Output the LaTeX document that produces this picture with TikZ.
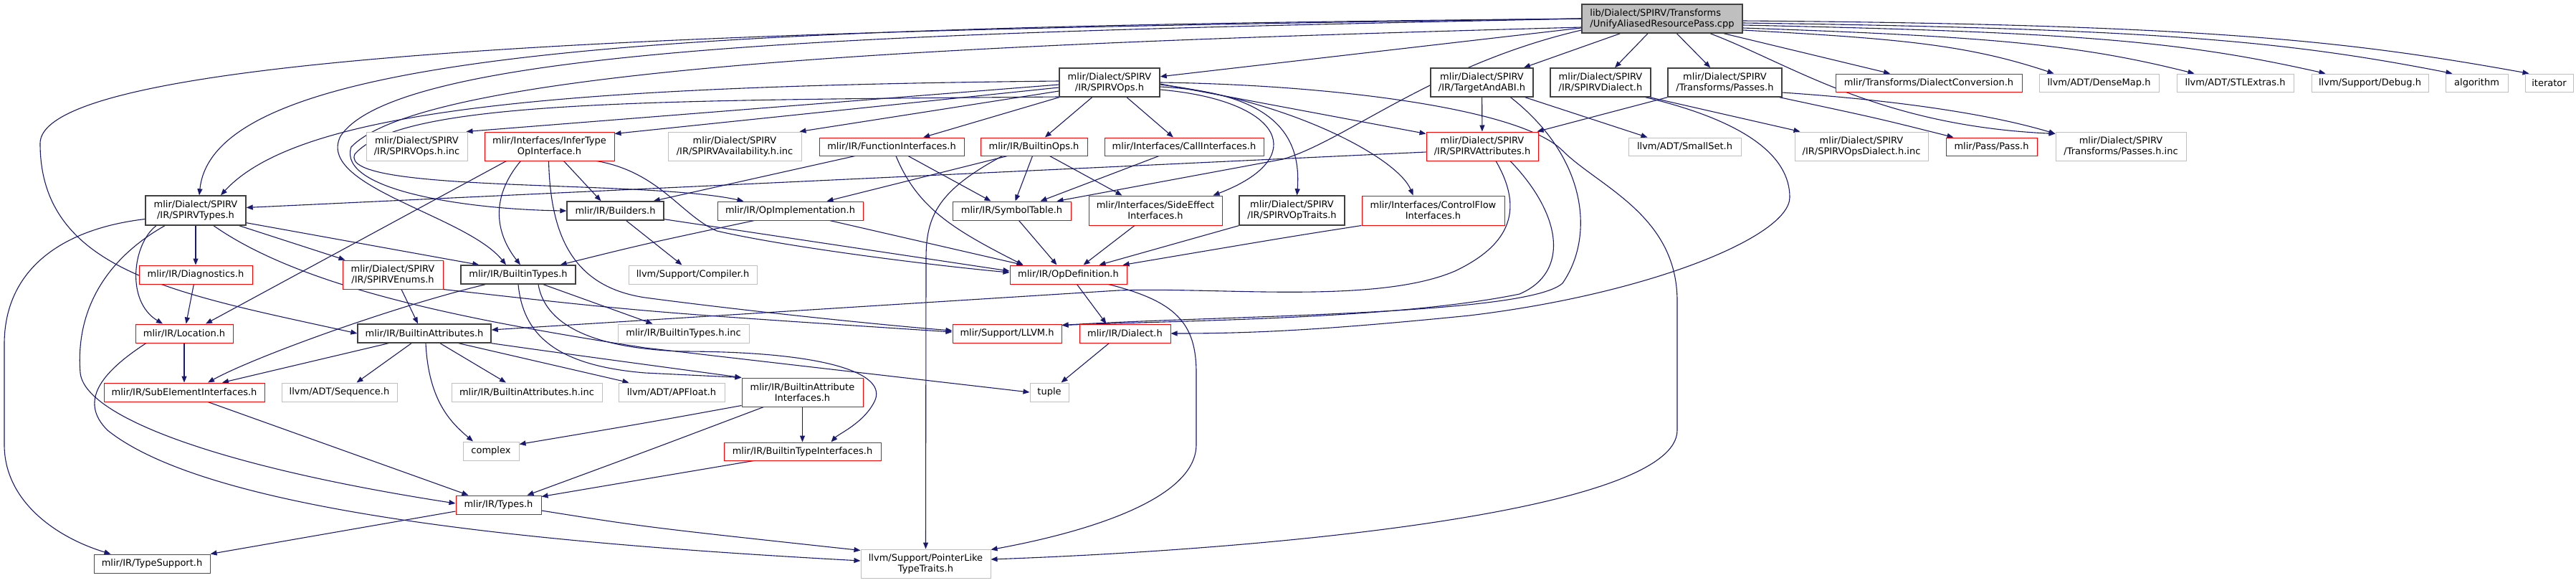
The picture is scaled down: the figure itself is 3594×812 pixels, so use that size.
\documentclass[tikz,border=0pt]{standalone}
\usepackage{fontspec}
\setmainfont{DejaVu Sans}
\usetikzlibrary{arrows.meta}
\pgfdeclarelayer{bg}
\pgfdeclarelayer{edges}
\pgfsetlayers{bg,edges,main}
\definecolor{edgec}{RGB}{25,25,112}
\definecolor{gr75}{RGB}{191,191,191}
\definecolor{gr25}{RGB}{64,64,64}
\newcommand\mknode[7]{%
  \pgfmathsetmacro\ndcx{(#3+#5)/2}%
  \pgfmathsetmacro\ndcy{(#4+#6)/2}%
  \pgfmathsetmacro\ndw{#5-#3}%
  \pgfmathsetmacro\ndh{#6-#4}%
  \node[#2,minimum width=\ndw pt,minimum height=\ndh pt] (#1) at (\ndcx,\ndcy) {#7};}
\tikzset{
  base/.style={draw, inner sep=0pt, font=\fontsize{13}{15}\selectfont, align=center, fill=white, text=black},
  blk/.style={base, draw=gr25, line width=1.4pt},
  rd/.style={base, draw=red, line width=1pt},
  gy/.style={base, draw=gr75, line width=1pt},
  rootst/.style={base, fill=gr75, draw=gr25, line width=1.4pt, align=left},
  edg/.style={draw=edgec, line width=1.1pt, -{Triangle[length=9pt,width=7pt]}}
}
\begin{document}
\begin{tikzpicture}[x=1pt,y=-1pt]
\begin{pgfonlayer}{bg}
\fill[white] (0,0) rectangle (3594,812);
\end{pgfonlayer}
\useasboundingbox (0,0) rectangle (3594,812);
% row 0
\mknode{root}{rootst}{2207}{6}{2431}{46}{lib/Dialect/SPIRV/Transforms\\/UnifyAliasedResourcePass.cpp}
% row 1
\mknode{ops}{blk}{1478}{95}{1618}{135}{mlir/Dialect/SPIRV\\/IR/SPIRVOps.h}
\mknode{abi}{blk}{1996}{95}{2139}{135}{mlir/Dialect/SPIRV\\/IR/TargetAndABI.h}
\mknode{dial}{blk}{2163}{95}{2303}{135}{mlir/Dialect/SPIRV\\/IR/SPIRVDialect.h}
\mknode{passes}{blk}{2327}{95}{2486}{135}{mlir/Dialect/SPIRV\\/Transforms/Passes.h}
\mknode{dconv}{rd}{2561}{103}{2821}{128}{mlir/Transforms/DialectConversion.h}
\mknode{dmap}{gy}{2845}{103}{3012}{128}{llvm/ADT/DenseMap.h}
\mknode{stlx}{gy}{3037}{103}{3200}{128}{llvm/ADT/STLExtras.h}
\mknode{debug}{gy}{3225}{103}{3388}{128}{llvm/Support/Debug.h}
\mknode{algo}{gy}{3412}{103}{3499}{128}{algorithm}
\mknode{iter}{gy}{3523}{103}{3590}{128}{iterator}
% row 2
\mknode{opsinc}{gy}{511}{184}{652}{224}{mlir/Dialect/SPIRV\\/IR/SPIRVOps.h.inc}
\mknode{infer}{rd}{676}{184}{857}{224}{mlir/Interfaces/InferType\\OpInterface.h}
\mknode{avail}{gy}{932}{184}{1118}{224}{mlir/Dialect/SPIRV\\/IR/SPIRVAvailability.h.inc}
\mknode{funcif}{rd}{1143}{192}{1345}{217}{mlir/IR/FunctionInterfaces.h}
\mknode{bops}{rd}{1368}{192}{1517}{217}{mlir/IR/BuiltinOps.h}
\mknode{callif}{rd}{1541}{192}{1763}{217}{mlir/Interfaces/CallInterfaces.h}
\mknode{attrs}{rd}{1990}{184}{2146}{224}{mlir/Dialect/SPIRV\\/IR/SPIRVAttributes.h}
\mknode{sset}{gy}{2272}{192}{2429}{217}{llvm/ADT/SmallSet.h}
\mknode{opsdinc}{gy}{2504}{184}{2690}{224}{mlir/Dialect/SPIRV\\/IR/SPIRVOpsDialect.h.inc}
\mknode{pass}{rd}{2715}{192}{2842}{217}{mlir/Pass/Pass.h}
\mknode{passinc}{gy}{2868}{184}{3050}{224}{mlir/Dialect/SPIRV\\/Transforms/Passes.h.inc}
% row 3
\mknode{types}{blk}{203}{273}{343}{314}{mlir/Dialect/SPIRV\\/IR/SPIRVTypes.h}
\mknode{builders}{blk}{791}{281}{926}{307}{mlir/IR/Builders.h}
\mknode{opimpl}{rd}{1001}{281}{1204}{307}{mlir/IR/OpImplementation.h}
\mknode{symtab}{rd}{1329}{281}{1494}{307}{mlir/IR/SymbolTable.h}
\mknode{sideeff}{rd}{1519}{273}{1705}{314}{mlir/Interfaces/SideEffect\\Interfaces.h}
\mknode{optraits}{blk}{1729}{273}{1876}{314}{mlir/Dialect/SPIRV\\/IR/SPIRVOpTraits.h}
\mknode{cflow}{rd}{1900}{273}{2099}{314}{mlir/Interfaces/ControlFlow\\Interfaces.h}
% row 4
\mknode{diag}{rd}{194}{370}{352}{396}{mlir/IR/Diagnostics.h}
\mknode{enums}{rd}{478}{363}{618}{403}{mlir/Dialect/SPIRV\\/IR/SPIRVEnums.h}
\mknode{btypes}{blk}{643}{370}{803}{396}{mlir/IR/BuiltinTypes.h}
\mknode{compiler}{gy}{877}{370}{1056}{396}{llvm/Support/Compiler.h}
\mknode{opdef}{rd}{1409}{370}{1572}{396}{mlir/IR/OpDefinition.h}
% row 5
\mknode{loc}{rd}{189}{452}{325}{478}{mlir/IR/Location.h}
\mknode{battrs}{blk}{499}{452}{685}{478}{mlir/IR/BuiltinAttributes.h}
\mknode{btinc}{gy}{862}{452}{1045}{478}{mlir/IR/BuiltinTypes.h.inc}
\mknode{llvmh}{rd}{1329}{452}{1481}{478}{mlir/Support/LLVM.h}
\mknode{dialect}{rd}{1506}{452}{1633}{478}{mlir/IR/Dialect.h}
% row 6
\mknode{subel}{rd}{145}{534}{369}{560}{mlir/IR/SubElementInterfaces.h}
\mknode{seq}{gy}{393}{534}{554}{560}{llvm/ADT/Sequence.h}
\mknode{bainc}{gy}{630}{534}{840}{560}{mlir/IR/BuiltinAttributes.h.inc}
\mknode{apf}{gy}{863}{534}{1011}{560}{llvm/ADT/APFloat.h}
\mknode{baif}{rd}{1035}{527}{1204}{567}{mlir/IR/BuiltinAttribute\\Interfaces.h}
\mknode{tuple}{gy}{1437}{534}{1491}{560}{tuple}
% row 7-9
\mknode{complex}{gy}{646}{616}{724}{642}{complex}
\mknode{btif}{rd}{1010}{617}{1229}{642}{mlir/IR/BuiltinTypeInterfaces.h}
\mknode{irtypes}{rd}{636}{691}{755}{717}{mlir/IR/Types.h}
\mknode{tsup}{rd}{131}{773}{293}{799}{mlir/IR/TypeSupport.h}
\mknode{plt}{gy}{1201}{766}{1382}{806}{llvm/Support/PointerLike\\TypeTraits.h}

\begin{pgfonlayer}{edges}
% root
\draw[edg] (root) -- (ops);
\draw[edg] (root) -- (abi);
\draw[edg] (root) -- (dial);
\draw[edg] (root) -- (passes);
\draw[edg] (root) -- (dconv);
\draw[edg] ([yshift=-16pt]root.east) .. controls +(220,12) and +(-120,-40) .. ([xshift=21pt]dmap.north west);
\draw[edg] ([yshift=-13pt]root.east) .. controls +(350,12) and +(-160,-40) .. ([xshift=25pt]stlx.north west);
\draw[edg] ([yshift=-9pt]root.east) .. controls +(470,10) and +(-200,-45) .. ([xshift=20pt]debug.north west);
\draw[edg] ([yshift=-6pt]root.east) .. controls +(580,8) and +(-230,-45) .. ([xshift=10pt]algo.north west);
\draw[edg] ([yshift=-3pt]root.east) .. controls +(650,5) and +(-250,-45) .. ([xshift=6pt]iter.north west);
\draw[edg] ([xshift=67pt]root.south) .. controls (2500,90) and (2620,175) .. ([yshift=-3pt]passinc.north west);
\draw[edg] (root.west) .. controls (1000,38) and (300,60) .. ([xshift=5pt]types.north);
\draw[edg] (root.west) .. controls (1200,40) and (56,60) .. (56,200) .. controls (56,380) and (250,410) .. (battrs.west);
\draw[edg] (root.west) .. controls (1300,45) and (560,60) .. (475,190) .. controls (440,260) and (650,300) .. ([xshift=-17pt]btypes.north);
\draw[edg] ([yshift=-12pt]root.west) .. controls (1400,60) and (600,90) .. (490,205) .. controls (470,265) and (650,292) .. (builders.west);
\draw[edg] ([yshift=-16pt]root.west) .. controls (2000,90) and (1880,195) .. (1790,222) -- ([xshift=-20pt]symtab.north east);
% ops
\draw[edg] ([yshift=2pt]ops.west) .. controls (800,120) and (420,150) .. ([xshift=35pt]types.north);
\draw[edg] ([yshift=-3pt]ops.west) -- ([xshift=-2pt]opsinc.north east);
\draw[edg] ([yshift=-7pt]ops.west) -- ([yshift=-3pt]infer.north east);
\draw[edg] ([yshift=-12pt]ops.west) -- ([xshift=-3pt]avail.north east);
\draw[edg] (ops) -- (funcif);
\draw[edg] (ops) -- (bops);
\draw[edg] (ops) -- (callif);
\draw[edg] ([yshift=-20pt]ops.west) .. controls (900,140) and (560,140) .. (495,215) .. controls (470,270) and (900,250) .. ([xshift=37pt]opimpl.north west);
\draw[edg] ([yshift=-10pt]ops.east) .. controls (1790,140) and (1830,220) .. ([xshift=-13pt]sideeff.north east);
\draw[edg] ([yshift=-6pt]ops.east) .. controls (1790,130) and (1815,200) .. ([xshift=7pt]optraits.north);
\draw[edg] ([yshift=-3pt]ops.east) .. controls (1800,140) and (1950,220) .. ([xshift=-28pt]cflow.north);
\draw[edg] ([yshift=-2pt]ops.east) -- ([yshift=-3pt]attrs.north west);
\draw[edg] (ops.east) .. controls (1850,118) and (2120,150) .. (2180,210) .. controls (2230,260) and (2340,300) .. (2340,420) -- (2340,600) .. controls (2340,710) and (1800,765) .. ([yshift=6pt]plt.east);
% abi, dial, passes
\draw[edg] (abi) -- (attrs);
\draw[edg] ([xshift=-12pt]abi.south east) -- ([xshift=27pt]sset.north west);
\draw[edg] ([xshift=40pt]abi.south) .. controls (2215,220) and (2225,330) .. (2180,395) .. controls (2130,440) and (1700,440) .. ([yshift=-2pt]llvmh.north east);
\draw[edg] ([xshift=-2pt]dial.south east) -- ([xshift=8pt]opsdinc.north west);
\draw[edg] ([xshift=-8pt]dial.south east) .. controls (2440,170) and (2497,220) .. (2497,275) .. controls (2497,330) and (2300,410) .. (2050,440) .. controls (1850,460) and (1750,465) .. (dialect.east);
\draw[edg] (passes.south west) -- ([xshift=-2pt]attrs.north east);
\draw[edg] ([xshift=-4pt]passes.south east) .. controls (2620,165) .. ([xshift=11pt]pass.north west);
\draw[edg] ([yshift=-14pt]passes.east) .. controls (2650,140) and (2780,160) .. ([yshift=-3pt]passinc.north west);
% attrs
\draw[edg] ([yshift=-8pt]attrs.west) -- ([yshift=4pt]types.east);
\draw[edg] ([xshift=19pt]attrs.south) .. controls (2125,290) and (2110,340) .. (2030,378) .. controls (1920,425) and (1700,400) .. (1560,405) -- ([yshift=5pt]battrs.east);
\draw[edg] ([xshift=39pt]attrs.south) .. controls (2180,300) and (2190,380) .. (2120,410) .. controls (1950,445) and (1650,447) .. ([yshift=-2pt]llvmh.north east);
% types
\draw[edg] (types) -- (diag);
\draw[edg] ([xshift=-10pt]types.south east) -- ([xshift=4pt]enums.north west);
\draw[edg] ([yshift=4pt]types.south east) -- ([xshift=26pt]btypes.north west);
\draw[edg] ([xshift=-55pt]types.south) .. controls (185,340) and (175,420) .. ([xshift=-30pt]loc.north);
\draw[edg] ([xshift=25pt]types.south) .. controls (420,400) and (640,445) .. (900,485) -- (tuple.west);
\draw[edg] ([xshift=-43pt]types.south) .. controls (150,360) and (105,430) .. (112,520) .. controls (118,580) and (300,650) .. ([yshift=2pt]irtypes.west);
\draw[edg] ([yshift=-12pt]types.west) .. controls (80,320) and (6,380) .. (6,480) -- (6,620) .. controls (6,700) and (80,750) .. ([xshift=24pt]tsup.north west);
% enums
\draw[edg] ([xshift=12pt]enums.south) -- ([xshift=-9pt]battrs.north);
\draw[edg] (enums.south east) .. controls (900,435) .. ([yshift=2pt]llvmh.west);
% infer
\draw[edg] ([xshift=-60pt]infer.south) -- ([xshift=30pt]loc.north);
\draw[edg] ([xshift=-40pt]infer.south) .. controls (680,280) and (695,330) .. ([xshift=3pt]btypes.north);
\draw[edg] ([xshift=20pt]infer.south) -- ([xshift=-20pt]builders.north);
\draw[edg] ([xshift=-1pt]infer.south) .. controls (768,330) and (800,400) .. (900,415) .. controls (1050,435) and (1250,455) .. ([yshift=4pt]llvmh.west);
\draw[edg] ([xshift=-25pt]infer.south east) .. controls (920,240) and (950,300) .. (1000,322) .. controls (1100,345) and (1300,370) .. ([yshift=3pt]opdef.west);
% funcif, bops, callif
\draw[edg] ([xshift=23pt]funcif.south) -- ([xshift=-29pt]symtab.north);
\draw[edg] ([xshift=-51pt]funcif.south) -- ([xshift=-15pt]builders.north east);
\draw[edg] ([xshift=6pt]funcif.south) .. controls (1280,290) and (1330,320) .. ([xshift=19pt]opdef.north west);
\draw[edg] ([xshift=-2pt]bops.south) -- ([xshift=5pt]symtab.north);
\draw[edg] ([xshift=22pt]bops.south) -- ([xshift=47pt]sideeff.north west);
\draw[edg] ([xshift=-37pt]bops.south) -- ([xshift=-51pt]opimpl.north east);
\draw[edg] ([xshift=-44pt]bops.south) .. controls (1310,265) and (1292,300) .. (1292,360) -- (plt.north);
\draw[edg] ([xshift=-35pt]callif.south) -- ([xshift=-43pt]symtab.north east);
% row 3 sources
\draw[edg] ([xshift=-53pt]builders.south east) -- ([xshift=75pt]compiler.north west);
\draw[edg] ([yshift=2pt]builders.south east) -- ([yshift=5pt]opdef.west);
\draw[edg] ([xshift=-47pt]opimpl.south east) -- ([xshift=19pt]opdef.north west);
\draw[edg] ([xshift=-50pt]opimpl.south) .. controls (900,340) .. ([xshift=-22pt]btypes.north east);
\draw[edg] ([xshift=10pt]symtab.south) -- ([xshift=-16pt]opdef.north);
\draw[edg] ([xshift=-29pt]sideeff.south) -- ([xshift=21pt]opdef.north);
\draw[edg] (optraits.south west) -- ([xshift=43pt]opdef.north);
\draw[edg] (cflow.south west) .. controls (1800,330) .. ([xshift=-6pt]opdef.north east);
% row 4 sources
\draw[edg] (diag) -- (loc);
\draw[edg] ([xshift=-46pt]btypes.south) .. controls (540,430) and (350,500) .. ([xshift=33pt]subel.north);
\draw[edg] ([xshift=35pt]btypes.south) -- ([xshift=49pt]btinc.north west);
\draw[edg] (btypes.south) .. controls (730,470) and (780,510) .. (900,520) -- (baif.north west);
\draw[edg] ([xshift=28pt]btypes.south) .. controls (760,450) and (820,485) .. (950,490) .. controls (1150,490) and (1240,520) .. (1220,560) .. controls (1205,590) and (1170,605) .. ([xshift=40pt]btif.north);
\draw[edg] ([xshift=12pt]opdef.south) -- ([xshift=-26pt]dialect.north);
\draw[edg] ([xshift=56pt]opdef.south) .. controls (1640,420) and (1669,450) .. (1669,520) -- (1669,620) .. controls (1669,700) and (1500,745) .. ([yshift=-1pt]plt.north east);
% row 5 sources
\draw[edg] ([xshift=-50pt]battrs.south) -- ([xshift=53pt]subel.north);
\draw[edg] ([xshift=-18pt]battrs.south) -- ([xshift=24pt]seq.north);
\draw[edg] ([xshift=22pt]battrs.south) -- ([xshift=-29pt]bainc.north);
\draw[edg] ([xshift=48pt]battrs.south) -- ([xshift=15pt]apf.north west);
\draw[edg] (battrs.south east) .. controls (800,495) and (950,515) .. (baif.north west);
\draw[edg] ([xshift=2pt]battrs.south) .. controls (598,560) and (630,590) .. ([xshift=-25pt]complex.north);
\draw[edg] (loc) -- (subel);
\draw[edg] ([xshift=-53pt]loc.south) .. controls (140,520) and (110,560) .. (150,600) .. controls (300,720) and (800,760) .. ([yshift=4pt]plt.west);
\draw[edg] ([xshift=-22pt]dialect.south) -- ([xshift=-11pt]tuple.north east);
% lower
\draw[edg] ([xshift=33pt]subel.south) -- ([xshift=18pt]irtypes.north west);
\draw[edg] ([yshift=2pt]baif.south west) .. controls (900,590) .. ([yshift=-4pt]complex.north east);
\draw[edg] ([xshift=31pt]baif.south west) .. controls (900,630) .. ([xshift=-20pt]irtypes.north east);
\draw[edg] (baif) -- (btif);
\draw[edg] ([xshift=42pt]btif.south west) .. controls (900,668) .. ([yshift=-2pt]irtypes.north east);
\draw[edg] ([yshift=-9pt]irtypes.west) -- (tsup.north east);
\draw[edg] ([yshift=-8pt]irtypes.east) .. controls (900,735) .. ([yshift=-2pt]plt.north west);
\end{pgfonlayer}
\end{tikzpicture}
\end{document}
